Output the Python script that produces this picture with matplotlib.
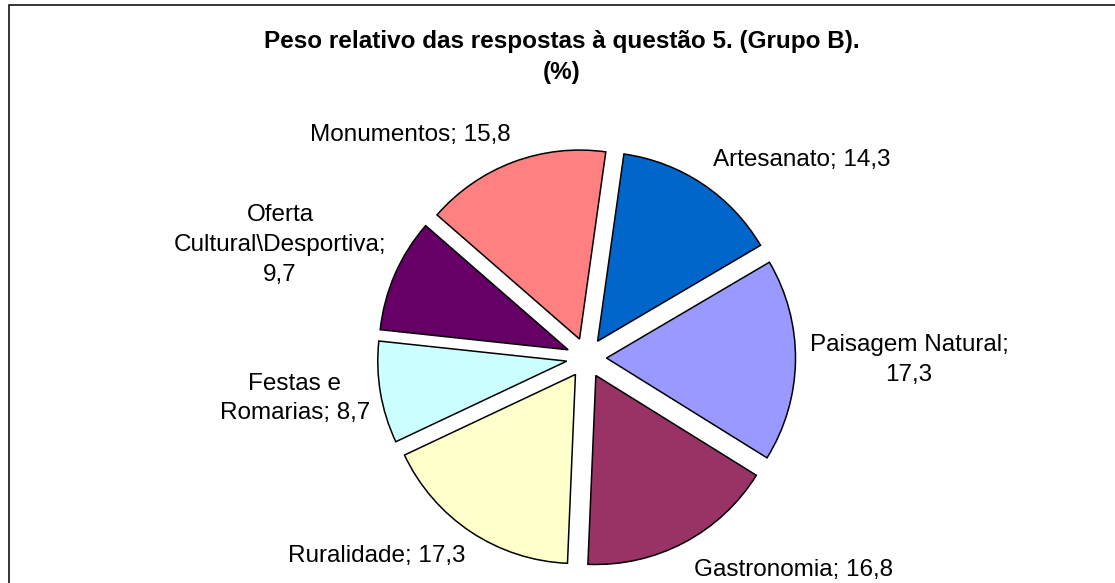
import matplotlib
matplotlib.use("Agg")
import matplotlib.pyplot as plt
from matplotlib.patches import Rectangle

# ---- data ----
categories = ["Artesanato", "Paisagem Natural", "Gastronomia", "Ruralidade",
              "Festas e\nRomarias", "Oferta\nCultural\\Desportiva", "Monumentos"]
values = [14.3, 17.3, 16.8, 17.3, 8.7, 9.7, 15.8]
separators = [" ", "\n", " ", " ", " ", "\n", " "]
colors = ["#0066CC", "#9999FF", "#993366", "#FFFFCC", "#CCFFFF", "#660066", "#FF8080"]
title_text = "Peso relativo das respostas à questão 5. (Grupo B).\n(%)"

W, H = 1115, 583
fig = plt.figure(figsize=(W / 100, H / 100), dpi=100)
ax = fig.add_axes([0, 0, 1, 1])

# pixel-based layout (y measured from top)
cx, cy, r = 586.5, 357.8, 189.0
explode_px = 20.0

ax.pie(values, colors=colors, startangle=82, counterclock=False,
       center=(cx, H - cy), radius=r,
       explode=[explode_px] * len(values),
       wedgeprops=dict(edgecolor="black", linewidth=1.1))
ax.set_xlim(0, W)
ax.set_ylim(0, H)
ax.set_aspect("equal")
ax.axis("off")

def fmt(v):
    return f"{v:.1f}".replace(".", ",")

label_pos = [(802, 160), (909, 360), (794, 570), (377, 556),
             (295, 398.5), (280, 245), (410, 135)]
for cat, val, sep, (lx, ly) in zip(categories, values, separators, label_pos):
    ax.text(lx, H - ly, f"{cat};{sep}{fmt(val)}", ha="center", va="center",
            multialignment="center", fontsize=17.5, family="Liberation Sans",
            color="black", linespacing=1.45)

ax.text(562, H - 57, title_text, ha="center", va="center", multialignment="center",
        fontsize=17.5, fontweight="bold", family="Liberation Sans", color="black",
        linespacing=1.45)

# chart frame (only left and top edges visible in the crop)
ax.add_patch(Rectangle((9, H - 700), 1200, 695, fill=False, edgecolor="black",
                       linewidth=1.1, clip_on=False))

fig.savefig("out.png", dpi=100)
